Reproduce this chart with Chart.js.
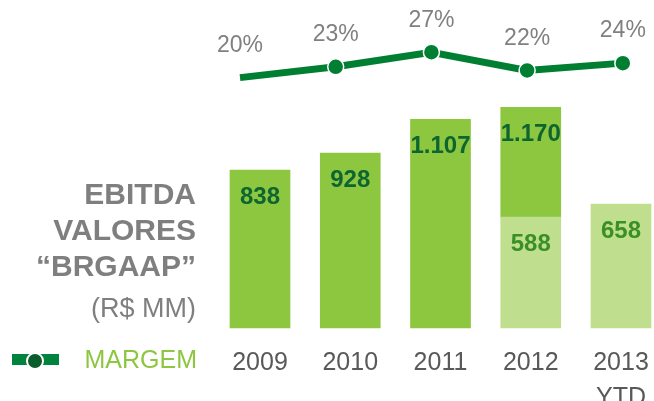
<!DOCTYPE html>
<html>
<head>
<meta charset="utf-8">
<script src="https://cdn.jsdelivr.net/npm/chart.js@4/dist/chart.umd.min.js"></script>
<style>
  body { margin: 0; background: #fff; }
  #wrap { position: relative; width: 654px; height: 401px; font-family: 'Liberation Sans', Arial, sans-serif; }
  #wrap canvas { position: absolute; left: 0; top: 0; }
  .side { position: absolute; right: 458px; text-align: right; white-space: nowrap; line-height: 1; color: #7f7f7f; }
  .big { font-size: 30px; font-weight: bold; }
  .unit { font-size: 27px; }
  #margem { position: absolute; right: 457px; top: 347px; font-size: 25px; line-height: 1; color: #8dc63f; }
  #legLine { position: absolute; left: 12px; top: 354px; width: 47px; height: 11px; background: #00843d; }
  #legDot { position: absolute; left: 26px; top: 352px; width: 14px; height: 14px; border-radius: 50%; background: #0b5c2c; border: 2px solid #fff; }
</style>
</head>
<body>
<div id="wrap">
  <canvas id="ebitdaChart"></canvas>
  <div class="side big" style="top:179px">EBITDA</div>
  <div class="side big" style="top:215px">VALORES</div>
  <div class="side big" style="top:251px">“BRGAAP”</div>
  <div class="side unit" style="top:295px">(R$ MM)</div>
  <div id="legLine"></div>
  <div id="legDot"></div>
  <div id="margem">MARGEM</div>
</div>
<script>
// dados do grafico
const years = ['2009', '2010', '2011', '2012', ['2013', 'YTD']];
const ebitdaAno = [838, 928, 1107, 1170, null];   // ano completo
const ebitdaYtd = [null, null, null, 588, 658];   // parte YTD (verde claro)
const margemPct = [20, 23, 27, 22, 24];

const fontFamily = "'Liberation Sans', Arial, sans-serif";

function formatBR(n) {
    return String(n).replace(/\B(?=(\d{3})+(?!\d))/g, '.');
}

// parte de cima da barra = total do ano menos o YTD
const ebitdaResto = ebitdaAno.map((v, i) => v == null ? null : v - (ebitdaYtd[i] || 0));

const valueLabels = {
    id: 'valueLabels',
    afterDatasetsDraw(chart) {
        const ctx = chart.ctx;
        ctx.save();
        ctx.textAlign = 'center';
        ctx.textBaseline = 'middle';
        chart.data.datasets.forEach((ds, di) => {
            const meta = chart.getDatasetMeta(di);
            meta.data.forEach((el, i) => {
                if (ds.type === 'line') {
                    ctx.font = '23px ' + fontFamily;
                    ctx.fillStyle = '#808080';
                    ctx.fillText(margemPct[i] + '%', el.x, el.y - 32);
                    return;
                }
                if (ds.data[i] == null) return;
                const value = ds.id === 'ytd' ? ebitdaYtd[i] : ebitdaAno[i];
                ctx.font = 'bold 24px ' + fontFamily;
                ctx.fillStyle = ds.labelColor;
                ctx.fillText(formatBR(value), el.x, el.y + 27);
            });
        });
        ctx.restore();
    }
};

const ctx = document.getElementById('ebitdaChart').getContext('2d');
const ebitdaChart = new Chart(ctx, {
    data: {
        labels: years,
        datasets: [
            {
                type: 'line',
                id: 'margem',
                data: margemPct.map((v, i) => ({ x: i, y: v })),
                xAxisID: 'x2',
                yAxisID: 'y2',
                borderColor: '#007f33',
                borderWidth: 7,
                tension: 0,
                pointRadius: 8,
                pointBackgroundColor: '#007f33',
                pointBorderColor: '#ffffff',
                pointBorderWidth: 1.5,
                clip: false,
                order: 0
            },
            {
                type: 'bar',
                id: 'ytd',
                data: ebitdaYtd,
                backgroundColor: '#c0df8e',
                labelColor: '#3a8f26',
                barThickness: 60,
                grouped: false,
                clip: false,
                order: 1
            },
            {
                type: 'bar',
                id: 'ano',
                data: ebitdaResto,
                backgroundColor: '#8dc63f',
                labelColor: '#0d6530',
                barThickness: 60,
                grouped: false,
                clip: false,
                order: 1
            }
        ]
    },
    options: {
        responsive: true,
        maintainAspectRatio: false,
        animation: false,
        layout: { autoPadding: false, padding: { left: 260, right: 33, top: 0, bottom: 0 } },
        plugins: { legend: { display: false }, tooltip: { enabled: false } },
        scales: {
            x: {
                stacked: true,
                offset: false,
                grid: { display: false, drawTicks: false },
                border: { display: false },
                ticks: {
                    padding: 18,
                    color: '#595959',
                    maxRotation: 0,
                    autoSkip: false,
                    font: { family: fontFamily, size: 25, lineHeight: 1.4 }
                },
                afterFit(scale) {
                    scale.height = 73;
                    scale.paddingLeft = 0;
                    scale.paddingRight = 0;
                }
            },
            y: { stacked: true, display: false, min: 0, max: 1740 },
            x2: { type: 'linear', display: false, min: 0.209, max: 3.981 },
            y2: { type: 'linear', display: false, min: -49, max: 41.4 }
        }
    },
    plugins: [valueLabels]
});
</script>
</body>
</html>
